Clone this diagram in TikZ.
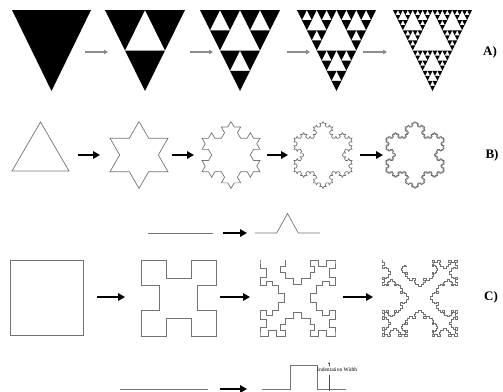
\documentclass[tikz,border=0pt]{standalone}
\usepackage{fontspec}
\setmainfont{Liberation Serif}
\usetikzlibrary{arrows.meta, decorations.fractals}

% inward square notch, middle third, depth 0.24 of the segment
\newdimen\notchlen
\pgfdeclaredecoration{square notch}{draw}
{
  \state{draw}[width=\pgfdecoratedinputsegmentlength]
  {
    \pgfmathsetlength\notchlen{\pgfdecoratedinputsegmentlength}%
    \pgfpathlineto{\pgfpointorigin}
    \pgfpathlineto{\pgfpoint{.3333\notchlen}{0pt}}
    \pgfpathlineto{\pgfpoint{.3333\notchlen}{.24\notchlen}}
    \pgfpathlineto{\pgfpoint{.6667\notchlen}{.24\notchlen}}
    \pgfpathlineto{\pgfpoint{.6667\notchlen}{0pt}}
    \pgfpathlineto{\pgfpoint{\notchlen}{0pt}}
  }
}

% level, x, y of top left corner, width, height
\newcommand\sierptri[5]{%
  \ifnum#1=0\relax
    \fill[black] (#2,#3) -- ++(#4,0) -- ++({-#4/2},#5) -- cycle;
  \else
    \begingroup
      \pgfmathtruncatemacro\sublevel{#1-1}%
      \pgfmathsetmacro\halfw{#4/2}%
      \pgfmathsetmacro\halfh{#5/2}%
      \pgfmathsetmacro\midx{#2+#4/2}%
      \pgfmathsetmacro\quarx{#2+#4/4}%
      \pgfmathsetmacro\midy{#3+#5/2}%
      \edef\sierpnext{%
        \noexpand\sierptri{\sublevel}{#2}{#3}{\halfw}{\halfh}%
        \noexpand\sierptri{\sublevel}{\midx}{#3}{\halfw}{\halfh}%
        \noexpand\sierptri{\sublevel}{\quarx}{\midy}{\halfw}{\halfh}}%
      \sierpnext
    \endgroup
  \fi
}

\begin{document}
\begin{tikzpicture}[x=1pt,y=-1pt]
  \tikzset{fractalline/.style={draw=black!55, line width=0.7pt, line join=miter},
           greyarrow/.style={draw=black!45, line width=1.4pt, -{Triangle[length=4pt,width=4.5pt,fill=black!80]}},
           fatarrow/.style={draw=black, line width=2.4pt, -{Triangle[length=7pt,width=7.5pt]}},
           rowlabel/.style={font=\bfseries\fontsize{13}{13}\selectfont, inner sep=0pt}}
  \useasboundingbox (0,0) rectangle (503,391);

  % row A: Sierpinski
  \sierptri{0}{12}{10}{79}{81}
  \sierptri{1}{105}{10}{80}{81}
  \sierptri{2}{200}{10}{80}{81}
  \sierptri{3}{297}{10}{79}{81}
  \sierptri{4}{393}{10}{79}{81}
  \foreach \xa/\xb in {85/108, 190/213, 287/310, 363/387}
    \draw[greyarrow] (\xa,52) -- (\xb,52);
  \node[rowlabel] (labela) at (490,52) {A)};

  % row B: Koch snowflake
  \draw[fractalline] (40.5,122) -- (69,171) -- (12,171) -- cycle;
  \draw[fractalline] decorate[decoration=Koch snowflake]{(139,121.5) -- (168,171.7) -- (110,171.7) -- cycle};
  \draw[fractalline] decorate[decoration=Koch snowflake]{decorate[decoration=Koch snowflake]{(231,121.5) -- (260,171.7) -- (202,171.7) -- cycle}};
  \draw[fractalline] decorate[decoration=Koch snowflake]{decorate[decoration=Koch snowflake]{decorate[decoration=Koch snowflake]{(323,121.5) -- (352,171.7) -- (294,171.7) -- cycle}}};
  \draw[fractalline] decorate[decoration=Koch snowflake]{decorate[decoration=Koch snowflake]{decorate[decoration=Koch snowflake]{decorate[decoration=Koch snowflake]{(415,121.5) -- (444,171.7) -- (386,171.7) -- cycle}}}};
  \foreach \xa/\xb in {78/100, 172/194, 267/288, 360/383}
    \draw[fatarrow] (\xa,155) -- (\xb,155);
  \node[rowlabel] (labelb) at (492,155) {B)};

  % generator B
  \draw[fractalline] (148,233) -- (213,233);
  \draw[fatarrow] (223,233) -- (247,233);
  \draw[fractalline] (255,233) -- (276.7,233) -- (287.5,213.5) -- (298.3,233) -- (320,233);

  % row C: square notch fractal
  \draw[fractalline] (10,260) rectangle (83,335);
  \draw[fractalline] decorate[decoration=square notch]{(141,260) -- (141,336) -- (216,336) -- (216,260) -- cycle};
  \draw[fractalline] decorate[decoration=square notch]{decorate[decoration=square notch]{(260,260) -- (260,336) -- (335,336) -- (335,260) -- cycle}};
  \draw[fractalline] decorate[decoration=square notch]{decorate[decoration=square notch]{decorate[decoration=square notch]{(382,260) -- (382,336) -- (457,336) -- (457,260) -- cycle}}};
  \foreach \xa/\xb in {97/125, 220/250, 343/373}
    \draw[fatarrow] (\xa,297) -- (\xb,297);
  \node[rowlabel] (labelc) at (491,297) {C)};

  % generator C
  \draw[fractalline] (120,389) -- (208,389);
  \draw[fatarrow] (220,389) -- (247,389);
  \draw[fractalline] (262,389) -- (290,389) -- (290,365) -- (317,365) -- (317,389) -- (346,389);
  \draw[black!70, line width=0.4pt, -{Stealth[length=2pt,width=1.8pt]}] (329,366) -- (329,362);
  \draw[black!70, line width=0.4pt] (329,375) -- (329,391);
  \node[font=\fontsize{5.5}{6}\selectfont, anchor=west, inner sep=0pt] (indent) at (317,370) {Indentation Width};
\end{tikzpicture}
\end{document}
